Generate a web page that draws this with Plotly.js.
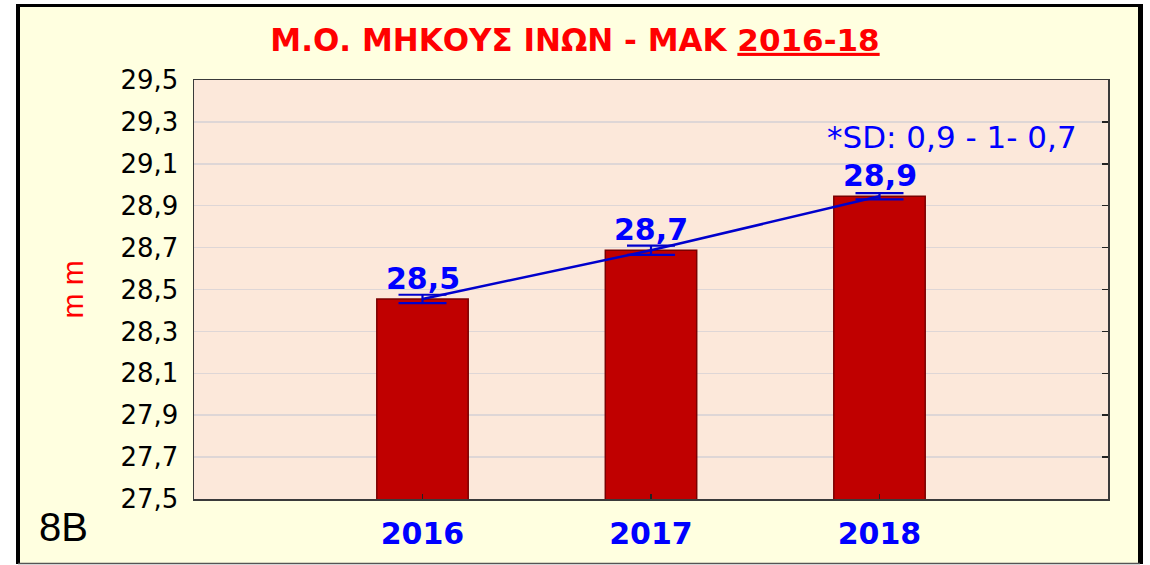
<!DOCTYPE html>
<html>
<head>
<meta charset="utf-8">
<script src="https://cdn.plot.ly/plotly-3.0.1.min.js"></script>
<style>
  html, body { margin: 0; padding: 0; background: #ffffff; }
  #chart { width: 1150px; height: 565px; }
</style>
</head>
<body>
<div id="chart"></div>
<script>
// ---- data ----
const years = ['2016', '2017', '2018'];
const meanLength = [28.455, 28.687, 28.945];
const errorHalf = [0.020, 0.022, 0.015];
const valueLabels = ['28,5', '28,7', '28,9'];
const yTickVals = [27.5, 27.7, 27.9, 28.1, 28.3, 28.5, 28.7, 28.9, 29.1, 29.3, 29.5];
const titleText = 'Μ.Ο. ΜΗΚΟΥΣ ΙΝΩΝ - ΜΑΚ <u>2016-18</u>';
const sdNote = '*SD: 0,9 - 1- 0,7';
const yUnit = 'm m';
const panelTag = '8B';

// ---- layout geometry (pixels) ----
const W = 1150, H = 565;
const L = 194, R = 1108, T = 80, B = 499;
const px = x => (x - L) / (R - L);
const py = y => (B - y) / (B - T);

const blue = '#0000FF';
const lineBlue = '#0000CC';
const yRange = [27.5, 29.5];

const traces = [
  {
    type: 'bar',
    x: years,
    y: meanLength,
    width: 0.4,
    marker: { color: '#C00000', line: { color: '#7A0000', width: 1.5 } },
    error_y: { type: 'data', array: errorHalf, visible: true, color: lineBlue, thickness: 2.2, width: 24 },
    hoverinfo: 'x+y'
  },
  {
    type: 'scatter',
    mode: 'lines',
    x: years,
    y: meanLength,
    yaxis: 'y2',
    line: { color: lineBlue, width: 2.5 },
    hoverinfo: 'skip'
  }
];

// value labels above each bar (category index used as x position)
const annotations = years.map((yr, i) => ({
  x: i, y: meanLength[i], xref: 'x', yref: 'y',
  text: '<b>' + valueLabels[i] + '</b>',
  showarrow: false, xanchor: 'center', yanchor: 'bottom', yshift: 1,
  font: { family: 'DejaVu Sans', size: 30, color: blue }
}));
annotations.push({
  x: px(952), y: py(137), xref: 'paper', yref: 'paper',
  text: sdNote, showarrow: false, xanchor: 'center', yanchor: 'middle',
  font: { family: 'DejaVu Sans', size: 31, color: blue }
});
annotations.push({
  x: px(72), y: 0.5, xref: 'paper', yref: 'paper',
  text: yUnit, showarrow: false, textangle: -90, xanchor: 'center', yanchor: 'middle',
  font: { family: 'Liberation Sans', size: 30, color: '#FF0000' }
});
annotations.push({
  x: px(63), y: py(527), xref: 'paper', yref: 'paper',
  text: panelTag, showarrow: false, xanchor: 'center', yanchor: 'middle',
  font: { family: 'Liberation Sans', size: 40, color: '#000000' }
});

const shapes = [
  { type: 'rect', xref: 'paper', yref: 'paper', layer: 'below',
    x0: px(18), x1: px(1140), y0: py(563), y1: py(5),
    fillcolor: '#FFFFE0', line: { width: 0 } },
  { type: 'rect', xref: 'paper', yref: 'paper', layer: 'below',
    x0: 0, x1: 1, y0: 0, y1: 1,
    fillcolor: '#FCE8DA', line: { width: 0 } },
  { type: 'line', xref: 'paper', yref: 'paper', layer: 'below',
    x0: px(18), x1: px(18), y0: py(564), y1: py(4), line: { color: '#000', width: 4 } },
  { type: 'line', xref: 'paper', yref: 'paper', layer: 'below',
    x0: px(16), x1: px(1143), y0: py(5.5), y1: py(5.5), line: { color: '#000', width: 3 } },
  { type: 'line', xref: 'paper', yref: 'paper', layer: 'below',
    x0: px(1140.5), x1: px(1140.5), y0: py(564), y1: py(4), line: { color: '#000', width: 5 } },
  { type: 'line', xref: 'paper', yref: 'paper', layer: 'below',
    x0: px(18), x1: px(1140), y0: py(563.5), y1: py(563.5), line: { color: '#555', width: 1.5 } }
];

const layout = {
  width: W, height: H,
  margin: { l: L, r: W - R, t: T, b: H - B, pad: 0 },
  paper_bgcolor: '#FFFFFF',
  plot_bgcolor: 'rgba(0,0,0,0)',
  separators: ',.',
  showlegend: false,
  title: {
    text: '<b>' + titleText + '</b>',
    x: 0.5, xref: 'container', xanchor: 'center',
    y: 1 - 40 / H, yref: 'container', yanchor: 'middle',
    font: { family: 'DejaVu Sans', size: 31, color: '#FF0000' }
  },
  xaxis: {
    type: 'category',
    range: [-1, 3],
    showline: true, mirror: true, linecolor: '#3A3A3A', linewidth: 1.5,
    ticks: 'inside', ticklen: 5, tickwidth: 1.5, tickcolor: '#222',
    showgrid: false, zeroline: false,
    tickfont: { family: 'DejaVu Sans', size: 30, color: blue },
    ticktext: years.map(y => '<b>' + y + '</b>'),
    tickvals: years,
    ticklabelstandoff: 7,
    fixedrange: true
  },
  yaxis: {
    range: yRange,
    tickvals: yTickVals,
    tickformat: '.1f',
    ticks: '',
    showline: true, linecolor: '#3A3A3A', linewidth: 1.5,
    showgrid: true, gridcolor: '#DED6D6', gridwidth: 1.5,
    zeroline: false,
    tickfont: { family: 'DejaVu Sans', size: 26, color: '#000000' },
    ticklabelstandoff: 9,
    fixedrange: true
  },
  yaxis2: {
    range: yRange,
    tickvals: yTickVals,
    overlaying: 'y', side: 'right',
    showticklabels: false,
    ticks: 'inside', ticklen: 6, tickwidth: 1.5, tickcolor: '#222',
    showline: true, linecolor: '#3A3A3A', linewidth: 1.5,
    showgrid: false, zeroline: false,
    fixedrange: true
  },
  annotations: annotations,
  shapes: shapes
};

Plotly.newPlot('chart', traces, layout, { displayModeBar: false, staticPlot: true });
</script>
</body>
</html>
